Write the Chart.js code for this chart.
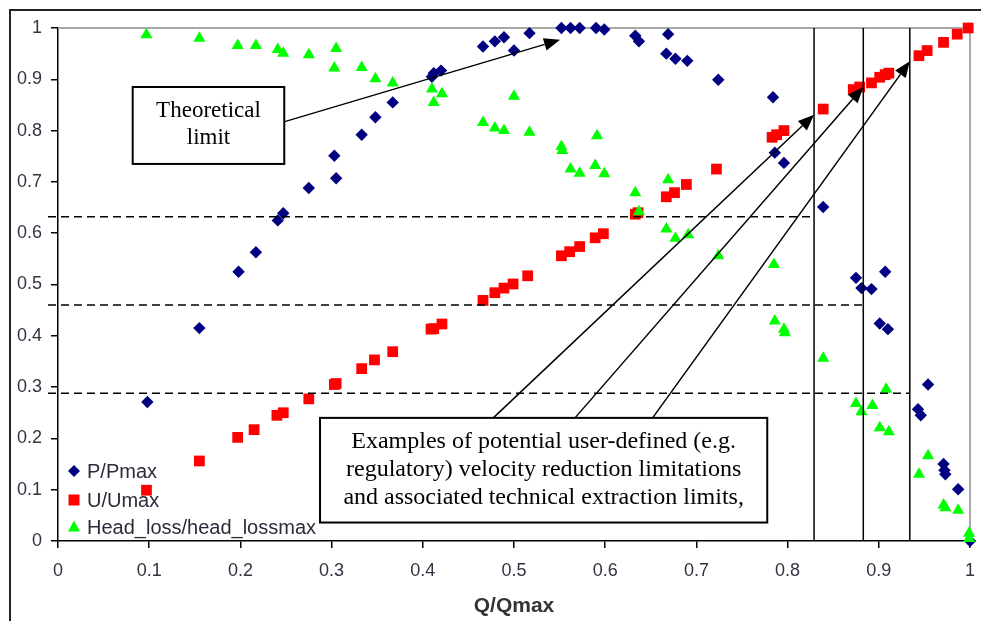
<!DOCTYPE html>
<html>
<head>
<meta charset="utf-8">
<script src="https://cdn.jsdelivr.net/npm/chart.js@4/dist/chart.umd.min.js"></script>
<style>
  body { margin: 0; background: #fff; overflow: hidden; }
  #wrap { width: 981px; height: 621px; position: relative; }
</style>
</head>
<body>
<div id="wrap"><canvas id="c"></canvas></div>
<script>
// values
const pQ   = [0.098,0.155,0.198,0.217,0.241,0.247,0.275,0.303,0.305,0.333,0.348,0.367,0.410,0.412,0.420,0.466,0.479,0.489,0.500,0.517,0.552,0.562,0.572,0.590,0.599,0.633,0.637,0.667,0.669,0.677,0.690,0.724,0.784,0.786,0.796,0.839,0.875,0.881,0.892,0.901,0.907,0.910,0.943,0.946,0.954,0.971,0.972,0.973,0.987,1.0];
const pVal = [0.271,0.415,0.525,0.563,0.625,0.639,0.688,0.751,0.707,0.792,0.826,0.855,0.905,0.912,0.917,0.964,0.974,0.982,0.956,0.990,1.0,1.0,1.0,1.0,0.997,0.985,0.974,0.950,0.988,0.940,0.936,0.899,0.865,0.757,0.737,0.651,0.513,0.493,0.491,0.424,0.525,0.413,0.257,0.245,0.305,0.150,0.138,0.130,0.101,0.0];

const uQ   = [0.097,0.155,0.197,0.215,0.240,0.247,0.275,0.303,0.305,0.333,0.347,0.367,0.409,0.412,0.421,0.466,0.479,0.489,0.499,0.515,0.552,0.561,0.572,0.589,0.598,0.633,0.636,0.667,0.676,0.689,0.722,0.783,0.788,0.796,0.839,0.872,0.879,0.892,0.901,0.907,0.911,0.944,0.953,0.971,0.986,0.998];
const uVal = [0.099,0.156,0.202,0.217,0.245,0.250,0.277,0.305,0.307,0.336,0.353,0.369,0.413,0.414,0.423,0.469,0.484,0.493,0.501,0.517,0.556,0.564,0.574,0.591,0.599,0.637,0.640,0.671,0.679,0.695,0.725,0.787,0.792,0.800,0.842,0.880,0.885,0.893,0.904,0.909,0.912,0.946,0.956,0.972,0.988,1.0];

const hQ   = [0.097,0.155,0.197,0.217,0.241,0.247,0.275,0.305,0.303,0.333,0.348,0.367,0.410,0.412,0.421,0.466,0.479,0.489,0.500,0.517,0.552,0.553,0.562,0.572,0.589,0.591,0.599,0.633,0.637,0.667,0.669,0.677,0.691,0.724,0.785,0.786,0.796,0.797,0.839,0.875,0.881,0.893,0.901,0.908,0.911,0.944,0.954,0.971,0.973,0.987,0.999,0.999];
const hVal = [0.987,0.980,0.966,0.966,0.958,0.951,0.948,0.960,0.922,0.923,0.901,0.893,0.881,0.855,0.872,0.816,0.805,0.800,0.867,0.797,0.769,0.761,0.725,0.717,0.732,0.790,0.716,0.679,0.642,0.608,0.704,0.590,0.597,0.556,0.539,0.429,0.413,0.406,0.356,0.268,0.252,0.264,0.221,0.296,0.213,0.130,0.166,0.070,0.065,0.060,0.015,0.005];

const seriesNames = ['P/Pmax', 'U/Umax', 'Head_loss/head_lossmax'];
const xTickLabels = ['0','0.1','0.2','0.3','0.4','0.5','0.6','0.7','0.8','0.9','1'];
const yTickLabels = ['0','0.1','0.2','0.3','0.4','0.5','0.6','0.7','0.8','0.9','1'];
const xTitle = 'Q/Qmax';

// user-defined limits (horizontal dashed + vertical solid lines)
const limitQ   = [0.829, 0.883, 0.934];
const limitVal = [0.632, 0.460, 0.288];

const pts = (xs, ys) => xs.map((v, i) => ({ x: v, y: ys[i] }));

const sansFont = '"Liberation Sans", Arial, sans-serif';
const serifFont = '"Liberation Serif", "Times New Roman", serif';

function drawArrow(ctx, x0, y0, x1, y1) {
  const a = Math.atan2(y1 - y0, x1 - x0), len = 16, hw = 6.5;
  const bx = x1 - len * Math.cos(a), by = y1 - len * Math.sin(a);
  ctx.beginPath(); ctx.moveTo(x0, y0); ctx.lineTo(bx, by); ctx.stroke();
  ctx.beginPath();
  ctx.moveTo(x1, y1);
  ctx.lineTo(bx + hw * Math.sin(a), by - hw * Math.cos(a));
  ctx.lineTo(bx - hw * Math.sin(a), by + hw * Math.cos(a));
  ctx.closePath(); ctx.fill();
}

function drawMarker(ctx, style, x, y, color) {
  ctx.fillStyle = color;
  ctx.beginPath();
  if (style === 'rectRot') {
    ctx.moveTo(x, y - 6); ctx.lineTo(x + 6, y); ctx.lineTo(x, y + 6); ctx.lineTo(x - 6, y);
  } else if (style === 'rect') {
    ctx.rect(x - 5.5, y - 5.5, 11, 11);
  } else {
    ctx.moveTo(x, y - 6.5); ctx.lineTo(x + 6, y + 4.5); ctx.lineTo(x - 6, y + 4.5);
  }
  ctx.closePath(); ctx.fill();
}

const overlay = {
  id: 'overlay',
  beforeDatasetsDraw(chart) {
    const { ctx, chartArea: a } = chart;
    ctx.save();
    // outer frame of the figure
    ctx.strokeStyle = '#222'; ctx.lineWidth = 2;
    ctx.beginPath(); ctx.moveTo(10, 640); ctx.lineTo(10, 10); ctx.lineTo(990, 10); ctx.stroke();
    // grey top/right plot border
    ctx.strokeStyle = '#a8a8a8'; ctx.lineWidth = 2;
    ctx.beginPath(); ctx.moveTo(a.left, a.top); ctx.lineTo(a.right, a.top); ctx.lineTo(a.right, a.bottom); ctx.stroke();
    ctx.restore();
  },
  afterDatasetsDraw(chart) {
    const { ctx, chartArea: a, scales: { x, y } } = chart;
    ctx.save();
    ctx.strokeStyle = '#000'; ctx.fillStyle = '#000';

    // dashed horizontal limits and vertical lines
    ctx.lineWidth = 1.5;
    limitQ.forEach((q, i) => {
      const px = x.getPixelForValue(q), py = y.getPixelForValue(limitVal[i]);
      ctx.setLineDash([8, 5]);
      ctx.beginPath(); ctx.moveTo(a.left - 10, py); ctx.lineTo(px, py); ctx.stroke();
      ctx.setLineDash([]);
      ctx.beginPath(); ctx.moveTo(px, y.getPixelForValue(0)); ctx.lineTo(px, y.getPixelForValue(1)); ctx.stroke();
    });

    // "Theoretical limit" box + arrow
    ctx.lineWidth = 1.5;
    drawArrow(ctx, x.getPixelForValue(0.244), y.getPixelForValue(0.815), x.getPixelForValue(0.5505), y.getPixelForValue(0.977));
    const b1 = { l: x.getPixelForValue(0.0819), r: x.getPixelForValue(0.2481), t: y.getPixelForValue(0.885), b: y.getPixelForValue(0.735) };
    ctx.fillStyle = '#fff';
    ctx.fillRect(b1.l, b1.t, b1.r - b1.l, b1.b - b1.t);
    ctx.lineWidth = 2; ctx.strokeRect(b1.l, b1.t, b1.r - b1.l, b1.b - b1.t);
    ctx.fillStyle = '#000';
    ctx.font = '23px ' + serifFont; ctx.textAlign = 'center'; ctx.textBaseline = 'middle';
    const c1 = (b1.l + b1.r) / 2;
    ctx.fillText('Theoretical', c1, b1.t + 24);
    ctx.fillText('limit', c1, b1.t + 51);

    // arrows from the lower note to each limit
    ctx.lineWidth = 1.5;
    const starts = [0.4773, 0.5669, 0.652];
    limitQ.forEach((q, i) => {
      const tipY = [0.831, 0.885, 0.935][i];
      drawArrow(ctx, x.getPixelForValue(starts[i]), y.getPixelForValue(0.24), x.getPixelForValue(q), y.getPixelForValue(tipY));
    });

    const b2 = { l: x.getPixelForValue(0.2873), r: x.getPixelForValue(0.7777), t: y.getPixelForValue(0.24), b: y.getPixelForValue(0.036) };
    ctx.fillStyle = '#fff';
    ctx.fillRect(b2.l, b2.t, b2.r - b2.l, b2.b - b2.t);
    ctx.lineWidth = 2; ctx.strokeRect(b2.l, b2.t, b2.r - b2.l, b2.b - b2.t);
    ctx.fillStyle = '#000';
    ctx.font = '24px ' + serifFont;
    const c2 = (b2.l + b2.r) / 2;
    ctx.fillText('Examples of potential user-defined (e.g.', c2, b2.t + 24);
    ctx.fillText('regulatory) velocity reduction limitations', c2, b2.t + 52);
    ctx.fillText('and associated technical extraction limits,', c2, b2.t + 80);

    // legend, inside the plot at lower left
    ctx.font = '20px ' + sansFont; ctx.textAlign = 'left';
    const rows = [70, 41, 14];
    chart.data.datasets.forEach((ds, i) => {
      const yy = a.bottom - rows[i];
      drawMarker(ctx, ds.pointStyle, a.left + 16, yy, ds.backgroundColor);
      ctx.fillStyle = '#2b2b3a';
      ctx.fillText(ds.label, a.left + 29, yy + 1);
    });
    ctx.restore();
  }
};

const tickFont = { family: sansFont, size: 18 };

new Chart(document.getElementById('c'), {
  type: 'scatter',
  data: {
    datasets: [
      { label: seriesNames[0], data: pts(pQ, pVal), pointStyle: 'rectRot', pointRadius: 6.2, backgroundColor: '#000080', borderWidth: 0, order: 2, clip: false },
      { label: seriesNames[1], data: pts(uQ, uVal), pointStyle: 'rect', pointRadius: 7.6, backgroundColor: '#ff0000', borderWidth: 0, order: 1, clip: false },
      { label: seriesNames[2], data: pts(hQ, hVal), pointStyle: 'triangle', pointRadius: 7, backgroundColor: '#00ff00', borderWidth: 0, order: 0, clip: false }
    ]
  },
  options: {
    responsive: true,
    maintainAspectRatio: false,
    animation: false,
    layout: { padding: { top: 28, right: 11, left: 0, bottom: 0 } },
    plugins: { legend: { display: false }, tooltip: { enabled: false } },
    scales: {
      x: {
        type: 'linear', min: 0, max: 1,
        afterFit: s => { s.height = 80; s.paddingLeft = 0; s.paddingRight = 0; },
        border: { color: '#000', width: 1.5 },
        grid: { drawOnChartArea: false, drawTicks: true, tickLength: 7, color: '#000', lineWidth: 1.5 },
        ticks: { stepSize: 0.1, padding: 12, color: '#333344', font: tickFont, maxRotation: 0,
                 callback: (v, i) => xTickLabels[i] },
        title: { display: true, text: xTitle, color: '#333', font: { family: sansFont, size: 21, weight: 'bold' }, padding: { top: 0, bottom: 2 } }
      },
      y: {
        type: 'linear', min: 0, max: 1,
        afterFit: s => { s.width = 58; s.paddingTop = 0; s.paddingBottom = 0; },
        border: { color: '#000', width: 1.5 },
        grid: { drawOnChartArea: false, drawTicks: true, tickLength: 7, color: '#000', lineWidth: 1.5 },
        ticks: { stepSize: 0.1, padding: 9, color: '#333344', font: tickFont,
                 callback: (v, i) => yTickLabels[i] }
      }
    }
  },
  plugins: [overlay]
});
</script>
</body>
</html>
